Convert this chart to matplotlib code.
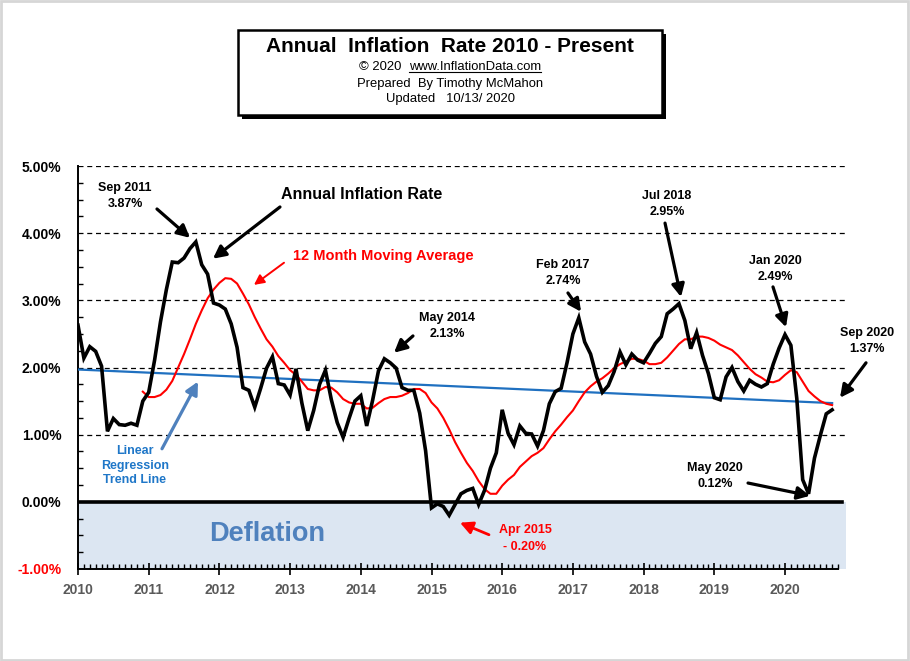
import matplotlib
matplotlib.use('Agg')
import matplotlib.pyplot as plt
from matplotlib.patches import Rectangle
from matplotlib.lines import Line2D
from matplotlib.ticker import MultipleLocator, FixedLocator

plt.rcParams['font.family'] = ['Liberation Sans', 'DejaVu Sans']

# ---------------- data ----------------
start_year = 2010
inflation = [
    2.63, 2.14, 2.31, 2.24, 2.02, 1.05, 1.24, 1.15, 1.14, 1.17, 1.14, 1.50,   # 2010
    1.63, 2.11, 2.68, 3.16, 3.57, 3.56, 3.63, 3.77, 3.87, 3.53, 3.39, 2.96,   # 2011
    2.93, 2.87, 2.65, 2.30, 1.70, 1.66, 1.41, 1.69, 1.99, 2.16, 1.76, 1.74,   # 2012
    1.59, 1.98, 1.47, 1.06, 1.36, 1.75, 1.96, 1.52, 1.18, 0.96, 1.24, 1.50,   # 2013
    1.58, 1.13, 1.51, 1.95, 2.13, 2.07, 1.99, 1.70, 1.66, 1.66, 1.32, 0.76,   # 2014
    -0.09, -0.03, -0.07, -0.20, -0.04, 0.12, 0.17, 0.20, -0.04, 0.17, 0.50, 0.73,  # 2015
    1.37, 1.02, 0.85, 1.13, 1.02, 1.01, 0.83, 1.06, 1.46, 1.64, 1.69, 2.07,   # 2016
    2.50, 2.74, 2.38, 2.20, 1.87, 1.63, 1.73, 1.94, 2.23, 2.04, 2.20, 2.11,   # 2017
    2.07, 2.21, 2.36, 2.46, 2.80, 2.87, 2.95, 2.70, 2.28, 2.52, 2.18, 1.91,   # 2018
    1.55, 1.52, 1.86, 2.00, 1.79, 1.65, 1.81, 1.75, 1.71, 1.76, 2.05, 2.29,   # 2019
    2.49, 2.33, 1.54, 0.33, 0.12, 0.65, 0.99, 1.31, 1.37,                     # 2020
]
# 12 month moving average, starting Dec 2010
ma_start_month = 11  # index of Dec 2010
moving_avg = [
    1.64,                                                                     # Dec 2010
    1.56, 1.56, 1.59, 1.67, 1.80, 2.00, 2.20, 2.42, 2.65, 2.85, 3.03, 3.16,   # 2011
    3.26, 3.33, 3.32, 3.25, 3.10, 2.94, 2.75, 2.58, 2.42, 2.31, 2.17, 2.07,   # 2012
    1.96, 1.89, 1.79, 1.68, 1.66, 1.66, 1.71, 1.70, 1.63, 1.53, 1.48, 1.46,   # 2013
    1.46, 1.39, 1.40, 1.47, 1.53, 1.56, 1.56, 1.58, 1.62, 1.68, 1.68, 1.62,   # 2014
    1.48, 1.39, 1.25, 1.08, 0.89, 0.73, 0.58, 0.46, 0.31, 0.19, 0.12, 0.12,   # 2015
    0.24, 0.33, 0.40, 0.52, 0.60, 0.68, 0.73, 0.80, 0.93, 1.05, 1.15, 1.26,   # 2016
    1.36, 1.50, 1.63, 1.72, 1.79, 1.84, 1.91, 1.99, 2.05, 2.09, 2.13, 2.13,   # 2017
    2.10, 2.05, 2.05, 2.07, 2.15, 2.25, 2.35, 2.42, 2.42, 2.46, 2.46, 2.44,   # 2018
    2.40, 2.34, 2.30, 2.26, 2.18, 2.08, 1.98, 1.90, 1.85, 1.79, 1.78, 1.81,   # 2019
    1.89, 1.96, 1.93, 1.79, 1.65, 1.57, 1.50, 1.46, 1.44,                     # 2020
]
trend_start_value = 1.97   # Jan 2010
trend_end_value = 1.47     # Sep 2020
ytick_values = [-1, 0, 1, 2, 3, 4, 5]
ytick_labels = ['-1.00%', '0.00%', '1.00%', '2.00%', '3.00%', '4.00%', '5.00%']
year_ticks = list(range(2010, 2021))
year_labels = [str(y) for y in year_ticks]

# ---------------- figure ----------------
W, H = 910, 661
fig = plt.figure(figsize=(W / 100, H / 100), dpi=100)
fig.patch.set_facecolor('white')
fig.add_artist(Rectangle((0.001, 0.001), 0.997, 0.997, transform=fig.transFigure,
                         fill=False, edgecolor='#d6d6d6', lw=2))

ax = fig.add_axes([78 / W, 92 / H, 768 / W, 403 / H])
ax.set_xlim(2010, 2010 + 768 / 70.7)
ax.set_ylim(-1, 5)

x_vals = [start_year + i / 12 for i in range(len(inflation))]
x_ma = [start_year + (ma_start_month + i) / 12 for i in range(len(moving_avg))]

# deflation band
ax.axhspan(-1, 0, color='#dce6f2', zorder=0, lw=0)
# grid lines
for v in ytick_values[2:]:
    ax.axhline(v, color='black', lw=0.9, ls=(0, (4, 3)), zorder=1)
ax.axhline(0, color='black', lw=2.6, zorder=2, xmax=0.995)

# trend line
ax.plot([x_vals[0], x_vals[-1]], [trend_start_value, trend_end_value],
        color='#1f70c0', lw=1.6, zorder=3)
# moving average
ax.plot(x_ma, moving_avg, color='#ff0000', lw=1.5, zorder=4)
# inflation
ax.plot(x_vals, inflation, color='black', lw=2.6, zorder=5, solid_joinstyle='miter')

# spines/ticks
for s in ['top', 'right']:
    ax.spines[s].set_visible(False)
ax.spines['left'].set_linewidth(1.4)
ax.spines['bottom'].set_linewidth(1.4)
ax.spines['bottom'].set_bounds(2010, 2020.75)

ax.yaxis.set_major_locator(FixedLocator(ytick_values))
ax.set_yticklabels(ytick_labels, fontsize=10, fontweight='bold')
ax.yaxis.set_minor_locator(MultipleLocator(0.25))
ax.tick_params(axis='y', which='major', length=0, pad=12)
ax.tick_params(axis='y', which='minor', direction='in', length=3.5, width=1)
for lab in ax.get_yticklabels():
    if lab.get_text().startswith('-'):
        lab.set_color('#ff0000')

ax.xaxis.set_major_locator(FixedLocator(year_ticks))
ax.set_xticklabels(year_labels, fontsize=10, fontweight='bold', color='#595959')
ax.xaxis.set_minor_locator(FixedLocator([2010 + m / 12 for m in range(0, 130)]))
ax.tick_params(axis='x', which='major', direction='inout', length=8, width=1.2, pad=6)
ax.tick_params(axis='x', which='minor', direction='in', length=3.5, width=1)

# Deflation label
ax.text(2012.67, -0.48, 'Deflation', fontsize=19.5, fontweight='bold', color='#4f81bd',
        ha='center', va='center', zorder=6)

# ---------------- annotations ----------------
def arrow(tail, head, color='black', lw=2.3, hl=0.75, hw=0.38):
    ax.annotate('', xy=head, xytext=tail, annotation_clip=False,
                arrowprops=dict(arrowstyle=f'-|>,head_length={hl},head_width={hw}',
                                color=color, lw=lw, shrinkA=0, shrinkB=0), zorder=7)

def label(pos, txt, color='black', size=9, ls=1.42):
    ax.text(pos[0], pos[1], txt, ha='center', va='center', fontsize=size,
            fontweight='bold', color=color, linespacing=ls, clip_on=False, zorder=7)

label((2010.665, 4.55), 'Sep 2011\n3.87%')
arrow((2011.117, 4.36), (2011.584, 3.93))

label((2014.017, 4.58), 'Annual Inflation Rate', size=11.5)
arrow((2012.857, 4.39), (2011.909, 3.62))

label((2014.314, 3.66), '12 Month Moving Average', color='#ff0000', size=10.5)
arrow((2012.914, 3.56), (2012.489, 3.23), color='#ff0000', lw=1.4, hl=0.6, hw=0.3)

label((2010.806, 0.54), 'Linear\nRegression\nTrend Line', color='#1f77c8', size=9, ls=1.3)
arrow((2011.188, 0.79), (2011.697, 1.79), color='#4f81bd', lw=2.3)

label((2015.219, 2.62), 'May 2014\n2.13%')
arrow((2014.738, 2.47), (2014.470, 2.22))

label((2016.322, -0.54), 'Apr 2015\n- 0.20%', color='#ff0000', ls=1.55)
arrow((2015.813, -0.49), (2015.403, -0.31), color='#ff0000', lw=2.0)

label((2016.86, 3.41), 'Feb 2017\n2.74%')
arrow((2016.93, 3.11), (2017.115, 2.83))

label((2018.331, 4.43), 'Jul 2018\n2.95%')
arrow((2018.303, 4.15), (2018.529, 3.05))

label((2019.858, 3.47), 'Jan 2020\n2.49%')
arrow((2019.830, 3.20), (2020.014, 2.60))

label((2021.16, 2.40), 'Sep 2020\n1.37%')
arrow((2021.146, 2.07), (2020.778, 1.55))

label((2019.01, 0.39), 'May 2020\n0.12%')
arrow((2019.477, 0.28), (2020.354, 0.09))

# ---------------- title box ----------------
bx0, by0, bw, bh = 238, 30, 424, 85  # pixels from top-left
fig.add_artist(Rectangle(((bx0 + 4) / W, (H - by0 - bh - 4) / H), bw / W, bh / H,
                         transform=fig.transFigure, facecolor='black', edgecolor='black',
                         lw=0, zorder=10))
fig.add_artist(Rectangle((bx0 / W, (H - by0 - bh) / H), bw / W, bh / H,
                         transform=fig.transFigure, facecolor='white', edgecolor='black',
                         lw=1.8, zorder=11))
fig.text(450 / W, (H - 47) / H, 'Annual  Inflation  Rate 2010 - Present', ha='center',
         va='center', fontsize=15, fontweight='bold', zorder=12)
fig.text(401 / W, (H - 67) / H, '© 2020', ha='right', va='center', fontsize=9.4, zorder=12)
t_url = fig.text(409 / W, (H - 67) / H, 'www.InflationData.com', ha='left', va='center',
                 fontsize=9.4, zorder=12)
fig.text(450 / W, (H - 84) / H, 'Prepared  By Timothy McMahon', ha='center', va='center',
         fontsize=9.4, zorder=12)
fig.text(450 / W, (H - 99) / H, 'Updated   10/13/ 2020', ha='center', va='center',
         fontsize=9.4, zorder=12)

fig.canvas.draw()
bb = t_url.get_window_extent()
inv = fig.transFigure.inverted()
(ux0, uy), (ux1, _) = inv.transform([(bb.x0, bb.y0 + 1.5), (bb.x1, bb.y0 + 1.5)])
fig.add_artist(Line2D([ux0, ux1], [uy, uy], transform=fig.transFigure, color='black',
                      lw=0.8, zorder=12))

fig.savefig('out.png', dpi=100)
